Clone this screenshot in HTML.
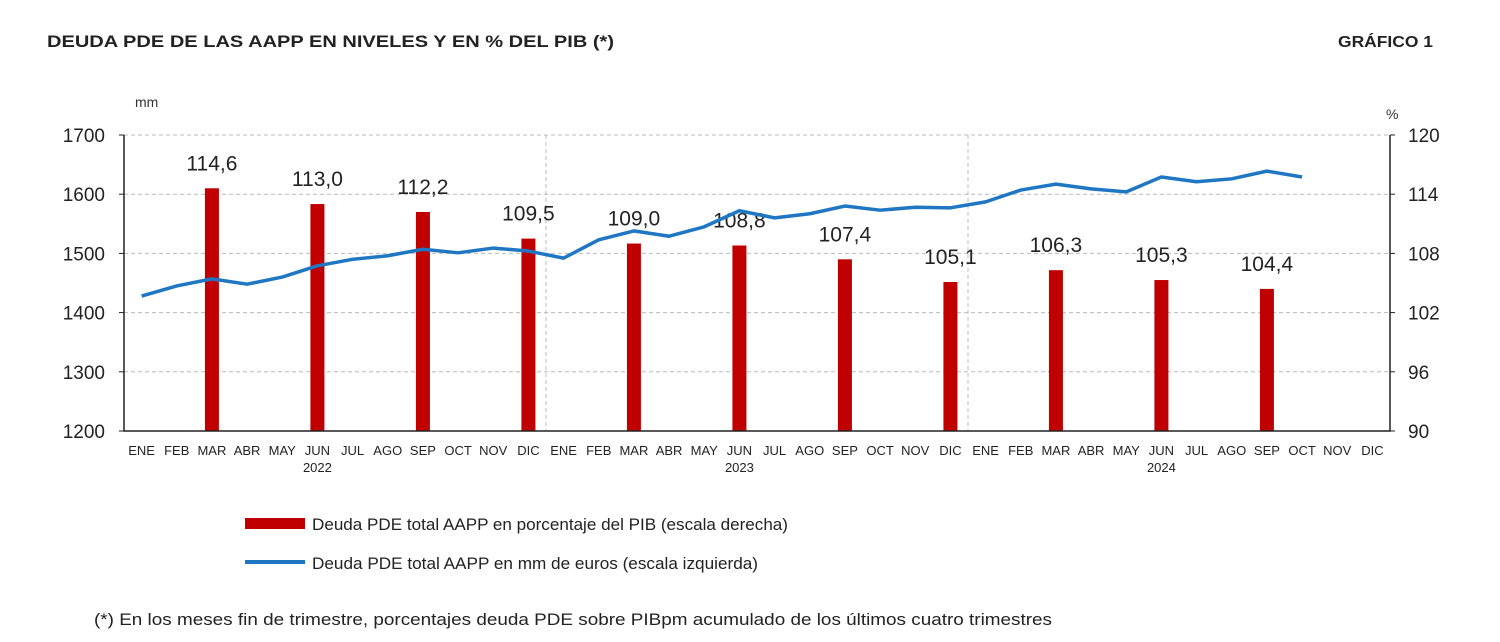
<!DOCTYPE html>
<html><head><meta charset="utf-8">
<style>
body{margin:0;background:#fff;width:1500px;height:642px;overflow:hidden;font-family:"Liberation Sans",sans-serif;}
svg{position:absolute;left:0;top:0}
</style></head>
<body>
<svg id="chart" width="1500" height="642">
<text x="47" y="47" font-size="17" font-weight="bold" fill="#222" textLength="567" lengthAdjust="spacingAndGlyphs">DEUDA PDE DE LAS AAPP EN NIVELES Y EN % DEL PIB (*)</text>
<text x="1338" y="47" font-size="16" font-weight="bold" fill="#222" textLength="95" lengthAdjust="spacingAndGlyphs">GRÁFICO 1</text>
<text x="135" y="107" font-size="14" fill="#333">mm</text>
<text x="1386" y="119" font-size="14" fill="#333">%</text>
<g id="grid"></g><g id="bars"></g><g id="line"></g><g id="axes"></g>
<rect x="245" y="518" width="60" height="11" fill="#c00000"/>
<text x="312" y="530" font-size="17" fill="#222" textLength="476" lengthAdjust="spacingAndGlyphs">Deuda PDE total AAPP en porcentaje del PIB (escala derecha)</text>
<line x1="245" y1="562" x2="305" y2="562" stroke="#1f77c4" stroke-width="4"/>
<text x="312" y="569" font-size="17" fill="#222" textLength="446" lengthAdjust="spacingAndGlyphs">Deuda PDE total AAPP en mm de euros (escala izquierda)</text>
<text x="94" y="625" font-size="17" fill="#222" textLength="958" lengthAdjust="spacingAndGlyphs">(*) En los meses fin de trimestre, porcentajes deuda PDE sobre PIBpm acumulado de los últimos cuatro trimestres</text>
</svg>
<script>
const months=["ENE","FEB","MAR","ABR","MAY","JUN","JUL","AGO","SEP","OCT","NOV","DIC"];
const years=["2022","2023","2024"];
const leftTicks=[1200,1300,1400,1500,1600,1700];
const rightTicks=[90,96,102,108,114,120];
const debtLevel=[1428,1445,1457,1448,1460,1479,1490,1496,1507,1501,1509,1504,1492,1523,1538,1529,1545,1572,1560,1567,1580,1573,1578,1577,1587,1607,1617,1609,1604,1629,1621,1626,1639,1629];
const barIdx=[2,5,8,11,14,17,20,23,26,29,32];
const barPct=[114.6,113.0,112.2,109.5,109.0,108.8,107.4,105.1,106.3,105.3,104.4];
const barLbl=["114,6","113,0","112,2","109,5","109,0","108,8","107,4","105,1","106,3","105,3","104,4"];
const L=124,R=1390,T=135,B=431,N=36,bw=(R-L)/N;
const yL=v=>B-(v-1200)/500*(B-T);
const yR=v=>B-(v-90)/30*(B-T);
const xC=i=>L+bw*(i+0.5);
const NS="http://www.w3.org/2000/svg";
function mk(tag,attrs,parent,txt){const e=document.createElementNS(NS,tag);for(const k in attrs)e.setAttribute(k,attrs[k]);if(txt!==undefined)e.textContent=txt;document.getElementById(parent).appendChild(e);return e;}
leftTicks.forEach((v,i)=>{
 if(i>0){const g=mk('line',{x1:L,x2:R,y1:yL(v),y2:yL(v),stroke:'#bbb','stroke-dasharray':'4,3'},'grid');
 
 }
 const t=mk('text',{x:105,y:yL(v)+7,'font-size':19,'text-anchor':'end',fill:'#222'},'axes',v);
 
 
 const tk=mk('line',{x1:L-5,x2:L,y1:yL(v),y2:yL(v),stroke:'#222'},'axes');
 
 
});
rightTicks.forEach(v=>{
 const t=mk('text',{x:1408,y:yR(v)+7,'font-size':19,fill:'#222'},'axes',v);
 
 
 const tk=mk('line',{x1:R,x2:R+5,y1:yR(v),y2:yR(v),stroke:'#222'},'axes');
 
 
});
[12,24].forEach(i=>{const s=mk('line',{x1:L+bw*i,x2:L+bw*i,y1:T,y2:B,stroke:'#bbb','stroke-dasharray':'4,3'},'grid');
 
 });
barPct.forEach((v,k)=>{
 const x=xC(barIdx[k]);
 const r=mk('rect',{x:x-7,y:yR(v),width:14,height:B-yR(v),fill:'#c00000'},'bars');
 
 
 const t=mk('text',{x:x,y:yR(v)-18,'font-size':21,'text-anchor':'middle',fill:'#222'},'bars',barLbl[k]);
 
 
});
const p=mk('polyline',{points:debtLevel.map((v,i)=>xC(i)+','+yL(v)).join(' '),fill:'none',stroke:'#1f77c4','stroke-width':3.5,'stroke-linejoin':'round'},'line');


const ax=mk('path',{d:`M${L},${T}V${B}H${R}V${T}`,fill:'none',stroke:'#222','stroke-width':1.5},'axes');


for(let i=0;i<N;i++){
 const t=mk('text',{x:xC(i),y:455,'font-size':13,'text-anchor':'middle',fill:'#222'},'axes',months[i%12]);
 
 
}
years.forEach((y,k)=>{const t=mk('text',{x:xC(k*12+5),y:472,'font-size':13,'text-anchor':'middle',fill:'#222'},'axes',y);
 
 });
</script>
</body></html>
